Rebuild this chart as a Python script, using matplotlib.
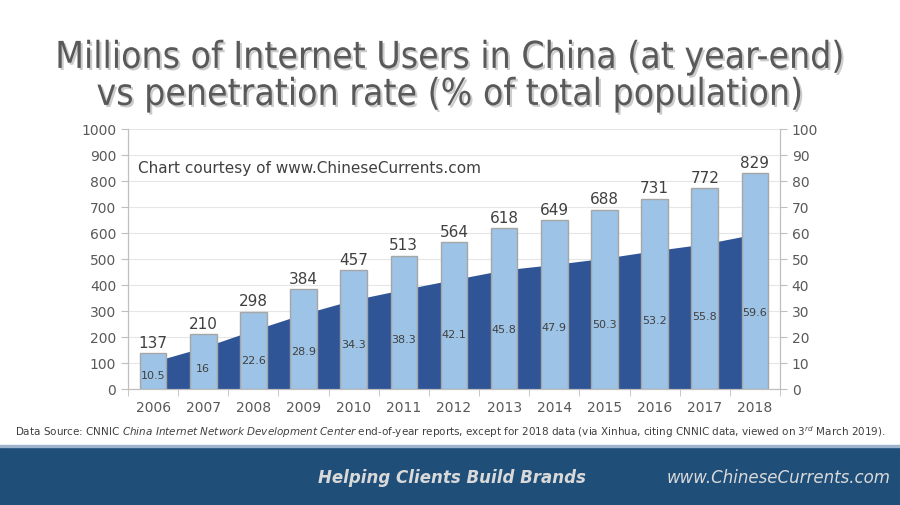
import matplotlib
matplotlib.use("Agg")
from matplotlib import pyplot as plt
from matplotlib import patheffects as pe
from matplotlib.patches import Rectangle

# data
years = ['2006', '2007', '2008', '2009', '2010', '2011', '2012',
         '2013', '2014', '2015', '2016', '2017', '2018']
users = [137, 210, 298, 384, 457, 513, 564, 618, 649, 688, 731, 772, 829]
rate = [10.5, 16, 22.6, 28.9, 34.3, 38.3, 42.1, 45.8, 47.9, 50.3, 53.2, 55.8, 59.6]

txt = '#595959'
fig = plt.figure(figsize=(9, 5.06), dpi=100)

# footer band
fig.patches.append(Rectangle((0, 0), 1, 58/506, transform=fig.transFigure,
                             color='#1F4E79', zorder=0))
fig.patches.append(Rectangle((0, 58/506), 1, 2/506, transform=fig.transFigure,
                             color='#9DB4CC', zorder=0))

# title
fig.text(0.5, 0.848, 'Millions of Internet Users in China (at year-end)\nvs penetration rate (% of total population)',
         ha='center', va='center', fontsize=26.7, color=txt, family='DejaVu Sans',
         stretch='condensed', linespacing=1.0,
         path_effects=[pe.withSimplePatchShadow(offset=(1.5, -1.5), shadow_rgbFace='#000000', alpha=0.2)])

ax = fig.add_axes([128/900, 1 - 390/506, 652/900, 260/506])
ax2 = ax.twinx()
ax.set_zorder(2)
ax.patch.set_visible(False)

x = list(range(len(years)))

# penetration rate area on the right axis (gridlines live here, behind the area)
ax2.fill_between(x, rate, 0, color='#2F5597', zorder=2, linewidth=0)
ax2.set_ylim(0, 100)
ax2.set_yticks(range(0, 101, 10))
ax2.grid(axis='y', color='#E6E6E6', linewidth=0.8, zorder=0)
ax2.set_axisbelow(True)

# users bars on the left axis
ax.bar(x, users, width=0.53, color='#9DC3E6', edgecolor='#A6A6A6', linewidth=1, zorder=3)
for xi, u in zip(x, users):
    ax.text(xi, u + 14, str(u), ha='center', va='bottom', fontsize=11, color='#404040')
for xi, r in zip(x, rate):
    ax.text(xi, r * 5, str(r), ha='center', va='center', fontsize=8, color='#404040', zorder=4)

ax.set_ylim(0, 1000)
ax.set_xlim(-0.5, 12.5)
ax.set_yticks(range(0, 1001, 100))
ax.set_xticks(x)
ax.set_xticklabels(years)
ax.set_xticks([i - 0.5 for i in range(14)], minor=True)
ax.tick_params(axis='x', which='major', length=0, labelsize=10, labelcolor=txt, pad=8)
ax.tick_params(axis='x', which='minor', length=5, color='#BFBFBF')
ax.tick_params(axis='y', labelsize=10, labelcolor=txt, length=5, color='#BFBFBF')
ax2.tick_params(axis='y', labelsize=10, labelcolor=txt, length=5, color='#BFBFBF')

for a in (ax, ax2):
    a.spines['top'].set_visible(False)
    for s in ('left', 'right', 'bottom'):
        a.spines[s].set_color('#BFBFBF')

ax.text(0.015, 0.85, 'Chart courtesy of www.ChineseCurrents.com', transform=ax.transAxes,
        fontsize=11, color='#404040', ha='left', va='center')

# source line
fig.text(0.5, 1 - 432/506,
         'Data Source: CNNIC $\\it{China\\ Internet\\ Network\\ Development\\ Center}$ end-of-year reports, '
         'except for 2018 data (via Xinhua, citing CNNIC data, viewed on 3$^{rd}$ March 2019).',
         ha='center', va='center', fontsize=7.5, color='#404040')

fig.text(452/900, 1 - 478/506, 'Helping Clients Build Brands', ha='center', va='center',
         fontsize=12, color='#D9D9D9', weight='bold', style='italic')
fig.text(779/900, 1 - 478/506, 'www.ChineseCurrents.com', ha='center', va='center',
         fontsize=12, color='#D9D9D9', style='italic')

fig.savefig('out.png', dpi=100)
